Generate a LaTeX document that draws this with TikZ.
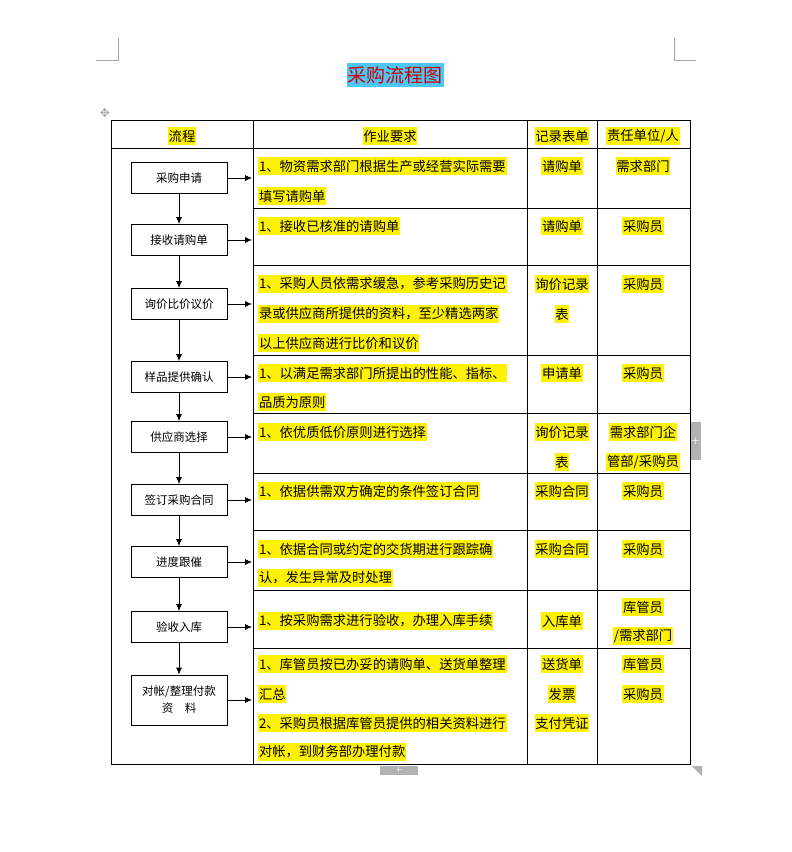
\documentclass[tikz,border=0pt]{standalone}
\usepackage{fontspec}
\usetikzlibrary{arrows.meta}
\newfontfamily\cjk{Noto Sans CJK SC}
\newfontfamily\djv{DejaVu Sans}
\begin{document}
\begin{tikzpicture}[x=1pt,y=-1pt,
  hl/.style={fill=yellow,inner xsep=0.8pt,inner ysep=2.5pt,font=\cjk\fontsize{13.3}{14}\selectfont},
  hlL/.style={hl,anchor=west},
  flow/.style={draw,line width=0.8pt,minimum width=96pt,minimum height=31pt,inner sep=1pt,align=center,font=\cjk\fontsize{11.5}{17}\selectfont},
  arr/.style={-{Latex[length=7pt,width=6pt]},line width=0.8pt},
  grid/.style={line width=0.9pt},
  cropm/.style={gray!70,line width=0.6pt}]
\useasboundingbox (0,0) rectangle (792,852);
\fill[white] (0,0) rectangle (792,852);
% crop marks
\draw[cropm] (96,60)--(118,60)--(118,38);
\draw[cropm] (674,38)--(674,60)--(696,60);
\fill[gray!60] (690,422) rectangle (701,460);
\node[white,font=\bfseries] (tabr) at (695.5,441) {+};
\fill[gray!60] (380,766) rectangle (418,775);
\node[white,font=\bfseries\scriptsize] (tabb) at (399,770) {+};
\fill[gray!60] (692,766) -- (702,766) -- (702,776) -- cycle;
\node[gray!70,font=\djv\large] (mv) at (105,113) {✥};
% title
\node[fill=cyan!70!white,text=red!80!black,inner xsep=1pt,inner ysep=3pt,font=\cjk\fontsize{19}{20}\selectfont] (title) at (395,75) {采购流程图};
% table
\draw[grid] (111,120) rectangle (690,764);
\foreach \x in {253,527,597} \draw[grid] (\x,120)--(\x,764);
\draw[grid] (111,148)--(690,148);
\foreach \y in {208,265,355,413,473,530,590,648} \draw[grid] (253,\y)--(690,\y);
% header
\node[hl] (h1) at (182,136) {流程};
\node[hl] (h2) at (390,136) {作业要求};
\node[hl] (h3) at (562,136) {记录表单};
\node[hl] (h4) at (643,136) {责任单位/人};
% flow boxes
\node[flow] (b1) at (179,178) {采购申请};
\node[flow] (b2) at (179,240) {接收请购单};
\node[flow] (b3) at (179,304) {询价比价议价};
\node[flow] (b4) at (179,377) {样品提供确认};
\node[flow] (b5) at (179,437) {供应商选择};
\node[flow] (b6) at (179,500) {签订采购合同};
\node[flow] (b7) at (179,562) {进度跟催};
\node[flow] (b8) at (179,627) {验收入库};
\node[flow,minimum height=50pt] (b9) at (179,700) {对帐/整理付款\\资\quad 料};
\foreach \a/\b in {b1/b2,b2/b3,b3/b4,b4/b5,b5/b6,b6/b7,b7/b8,b8/b9} \draw[arr] (\a)--(\b);
\foreach \b/\y in {b1/178,b2/240,b3/304,b4/377,b5/437,b6/500,b7/562,b8/627,b9/700}{
  \coordinate (e\b) at (252,\y);
  \draw[arr] (\b.east|-e\b)--(e\b);}
% column 2
\node[hlL] (r1a) at (258,166) {1、物资需求部门根据生产或经营实际需要};
\node[hlL] (r1b) at (258,196) {填写请购单};
\node[hlL] (r2a) at (258,226) {1、接收已核准的请购单};
\node[hlL] (r3a) at (258,284) {1、采购人员依需求缓急，参考采购历史记};
\node[hlL] (r3b) at (258,314) {录或供应商所提供的资料，至少精选两家};
\node[hlL] (r3c) at (258,343) {以上供应商进行比价和议价};
\node[hlL] (r4a) at (258,373) {1、以满足需求部门所提出的性能、指标、};
\node[hlL] (r4b) at (258,402) {品质为原则};
\node[hlL] (r5a) at (258,432) {1、依优质低价原则进行选择};
\node[hlL] (r6a) at (258,491) {1、依据供需双方确定的条件签订合同};
\node[hlL] (r7a) at (258,549) {1、依据合同或约定的交货期进行跟踪确};
\node[hlL] (r7b) at (258,578) {认，发生异常及时处理};
\node[hlL] (r8a) at (258,621) {1、按采购需求进行验收，办理入库手续};
\node[hlL] (r9a) at (258,664) {1、库管员按已办妥的请购单、送货单整理};
\node[hlL] (r9b) at (258,694) {汇总};
\node[hlL] (r9c) at (258,723) {2、采购员根据库管员提供的相关资料进行};
\node[hlL] (r9d) at (258,752) {对帐，到财务部办理付款};
% column 3
\node[hl] (c1) at (562,166) {请购单};
\node[hl] (c2) at (562,226) {请购单};
\node[hl] (c3a) at (562,284) {询价记录};
\node[hl] (c3b) at (562,314) {表};
\node[hl] (c4) at (562,373) {申请单};
\node[hl] (c5a) at (562,432) {询价记录};
\node[hl] (c5b) at (562,462) {表};
\node[hl] (c6) at (562,491) {采购合同};
\node[hl] (c7) at (562,549) {采购合同};
\node[hl] (c8) at (562,621) {入库单};
\node[hl] (c9a) at (562,664) {送货单};
\node[hl] (c9b) at (562,694) {发票};
\node[hl] (c9c) at (562,723) {支付凭证};
% column 4
\node[hl] (d1) at (643,166) {需求部门};
\node[hl] (d2) at (643,226) {采购员};
\node[hl] (d3) at (643,284) {采购员};
\node[hl] (d4) at (643,373) {采购员};
\node[hl] (d5a) at (643,432) {需求部门企};
\node[hl] (d5b) at (643,462) {管部/采购员};
\node[hl] (d6) at (643,491) {采购员};
\node[hl] (d7) at (643,549) {采购员};
\node[hl] (d8a) at (643,607) {库管员};
\node[hl] (d8b) at (643,636) {/需求部门};
\node[hl] (d9a) at (643,664) {库管员};
\node[hl] (d9b) at (643,694) {采购员};
\end{tikzpicture}
\end{document}
